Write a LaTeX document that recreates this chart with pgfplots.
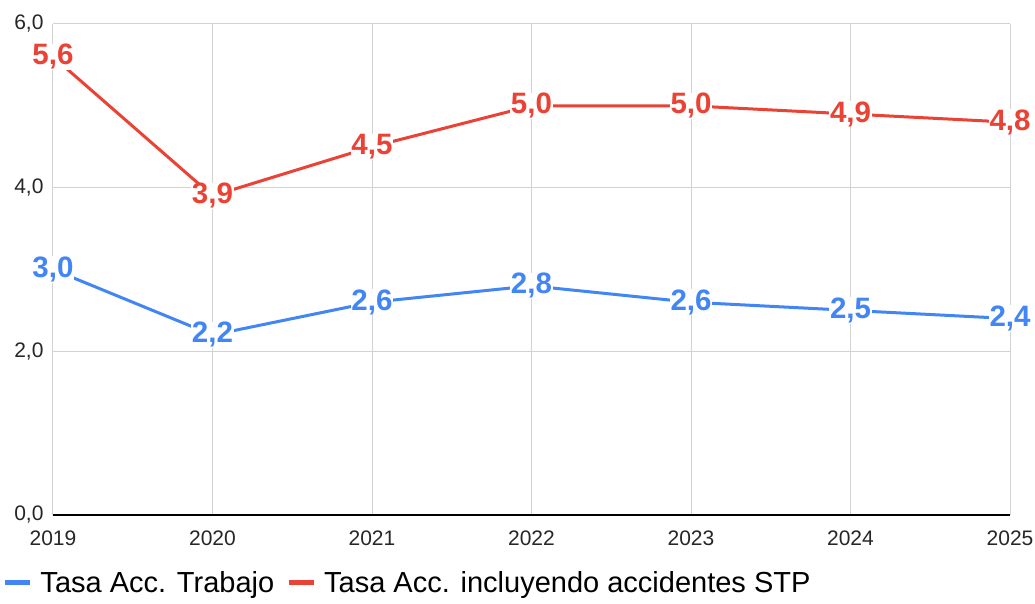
\documentclass[border=0pt]{standalone}
\usepackage{fontspec}
\setmainfont{Liberation Sans}
\usepackage{pgfplots}
\pgfplotsset{compat=1.18}
\definecolor{gblue}{RGB}{66,133,244}
\definecolor{gred}{RGB}{234,67,53}
\definecolor{gridgray}{RGB}{210,210,210}
\definecolor{baseline}{RGB}{80,80,80}

\begin{document}
\begin{tikzpicture}
\begin{axis}[
    scale only axis,
    width=957pt, height=491pt,
    xmin=2019, xmax=2025,
    ymin=0, ymax=6,
    xtick={2019,2020,2021,2022,2023,2024,2025},
    ytick={0,2,4,6},
    grid=major,
    major grid style={gridgray, line width=1pt},
    axis line style={draw=none},
    major tick length=0pt,
    clip=false,
    /pgf/number format/assume math mode=true,
    tick label style={font=\fontsize{21}{24}\selectfont, text=black!85},
    xticklabel style={/pgf/number format/1000 sep=, yshift=-12pt},
    yticklabel style={/pgf/number format/.cd, use comma, fixed, fixed zerofill, precision=1, /tikz/.cd, xshift=-6pt},
    nodes near coords,
    nodes near coords style={/pgf/number format/.cd, use comma, fixed, fixed zerofill, precision=1, assume math mode=true, /tikz/.cd},
    every node near coord/.append style={font=\bfseries\fontsize{29.5}{32}\selectfont, anchor=center, fill=white, inner sep=0.6pt},
    legend columns=2,
    legend style={draw=none, fill=none, inner sep=0pt, at={(-0.053,-0.138)}, anchor=west,
        font=\fontsize{29}{32}\selectfont,
        /tikz/every even column/.append style={column sep=10pt}},
    legend image code/.code={\draw[line width=5pt] (0pt,0pt) -- (25pt,0pt); \path (32pt,0pt);},
]
\addplot[gblue, line width=3pt, line join=round] coordinates {
    (2019,3.0) (2020,2.2) (2021,2.6) (2022,2.8) (2023,2.6) (2024,2.5) (2025,2.4)};
\addlegendentry{Tasa Acc. Trabajo}
\addplot[gred, line width=3pt, line join=round] coordinates {
    (2019,5.6) (2020,3.9) (2021,4.5) (2022,5.0) (2023,5.0) (2024,4.9) (2025,4.8)};
\addlegendentry{Tasa Acc. incluyendo accidentes STP}
\draw[baseline, line width=2pt] (rel axis cs:0,0) -- (rel axis cs:1,0);
\coordinate (sw) at (rel axis cs:0,0);
\coordinate (ne) at (rel axis cs:1,1);
\end{axis}
\pgfresetboundingbox
\path[use as bounding box] ([shift={(-53pt,-89pt)}]sw) rectangle ([shift={(25pt,24pt)}]ne);
\end{tikzpicture}
\end{document}
